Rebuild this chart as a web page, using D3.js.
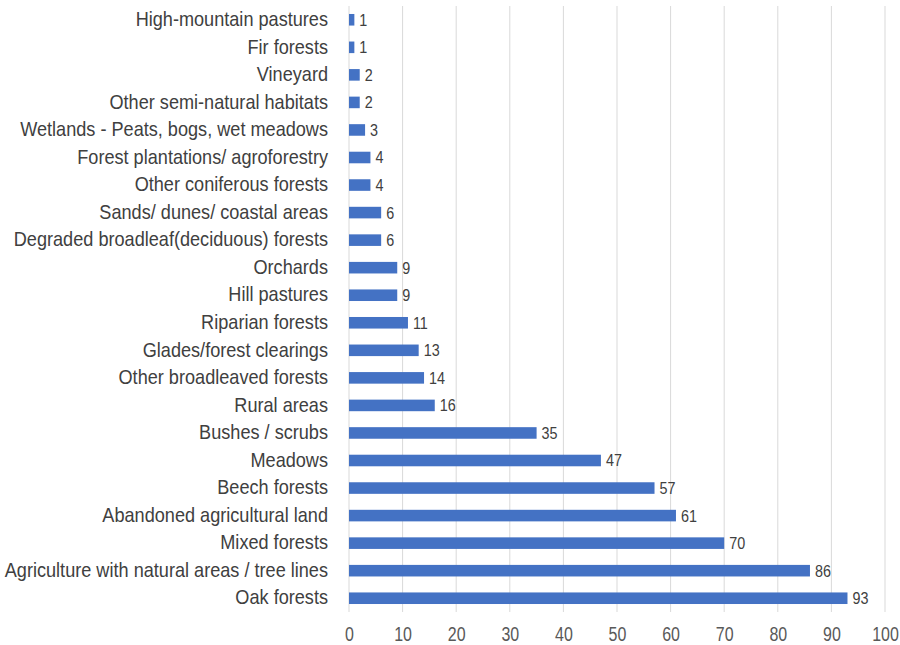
<!DOCTYPE html>
<html>
<head>
<meta charset="utf-8">
<script src="https://cdn.jsdelivr.net/npm/d3@7"></script>
<style>
  body { margin: 0; background: #fff; }
  text { font-family: "Liberation Sans", Arial, sans-serif; }
</style>
</head>
<body>
<div id="chart-area"></div>
<script>
// categories top to bottom
const categories = [
  "High-mountain pastures", "Fir forests", "Vineyard", "Other semi-natural habitats",
  "Wetlands - Peats, bogs, wet meadows", "Forest plantations/ agroforestry",
  "Other coniferous forests", "Sands/ dunes/ coastal areas",
  "Degraded broadleaf(deciduous) forests", "Orchards", "Hill pastures",
  "Riparian forests", "Glades/forest clearings", "Other broadleaved forests",
  "Rural areas", "Bushes / scrubs", "Meadows", "Beech forests",
  "Abandoned agricultural land", "Mixed forests",
  "Agriculture with natural areas / tree lines", "Oak forests"
]
const values = [1, 1, 2, 2, 3, 4, 4, 6, 6, 9, 9, 11, 13, 14, 16, 35, 47, 57, 61, 70, 86, 93]
const xTicks = [0, 10, 20, 30, 40, 50, 60, 70, 80, 90, 100]

const W = 900, H = 645
const MARGIN = { LEFT: 349, TOP: 6 }
const WIDTH = 885 - MARGIN.LEFT
const HEIGHT = 612 - MARGIN.TOP

// the reference font is a little narrower than Liberation Sans
const SQUEEZE = 0.93
const NUM_SQUEEZE = 0.82

const svg = d3.select("#chart-area").append("svg")
  .attr("width", W)
  .attr("height", H)

const g = svg.append("g")
  .attr("transform", "translate(" + MARGIN.LEFT + ", " + MARGIN.TOP + ")")

const x = d3.scaleLinear()
  .domain([0, 100])
  .range([0, WIDTH])

const y = d3.scaleBand()
  .domain(categories)
  .range([0, HEIGHT])
  .paddingInner(0.58)
  .paddingOuter(0.29)

// gridlines
g.selectAll(".grid")
  .data(xTicks)
  .enter().append("line")
    .attr("class", "grid")
    .attr("x1", function(d) { return x(d) })
    .attr("x2", function(d) { return x(d) })
    .attr("y1", 0)
    .attr("y2", HEIGHT)
    .attr("stroke", "#d9d9d9")
    .attr("stroke-width", 1)

// x tick labels
const xAxisCall = d3.axisBottom(x)
  .tickValues(xTicks)
  .tickSize(0)
  .tickPadding(15)
const xAxis = g.append("g")
  .attr("transform", "translate(0, " + HEIGHT + ")")
  .call(xAxisCall)
xAxis.select(".domain").remove()
xAxis.selectAll("text")
  .attr("font-size", "19.5px")
  .attr("font-family", "'Liberation Sans', Arial, sans-serif")
  .attr("fill", "#595959")
  .attr("transform", "scale(" + NUM_SQUEEZE + ",1)")

// category labels
const yAxisCall = d3.axisLeft(y)
  .tickSize(0)
  .tickPadding(21)
const yAxis = g.append("g").call(yAxisCall)
yAxis.select(".domain").remove()
yAxis.selectAll("text")
  .attr("font-size", "19.5px")
  .attr("font-family", "'Liberation Sans', Arial, sans-serif")
  .attr("fill", "#404040")
  .attr("x", -21 / SQUEEZE)
  .attr("transform", "scale(" + SQUEEZE + ",1)")

// bars
g.selectAll(".bar")
  .data(values)
  .enter().append("rect")
    .attr("class", "bar")
    .attr("x", x(0))
    .attr("y", function(d, i) { return y(categories[i]) })
    .attr("width", function(d) { return x(d) - x(0) })
    .attr("height", y.bandwidth())
    .attr("fill", "#4472c4")

// value labels
g.selectAll(".val")
  .data(values)
  .enter().append("text")
    .attr("class", "val")
    .attr("transform", function(d, i) {
      return "translate(" + (x(d) + 5) + "," + (y(categories[i]) + y.bandwidth() / 2) + ") scale(0.87,1)"
    })
    .attr("dy", "0.36em")
    .attr("font-size", "16.5px")
    .attr("fill", "#404040")
    .text(function(d) { return d })
</script>
</body>
</html>
